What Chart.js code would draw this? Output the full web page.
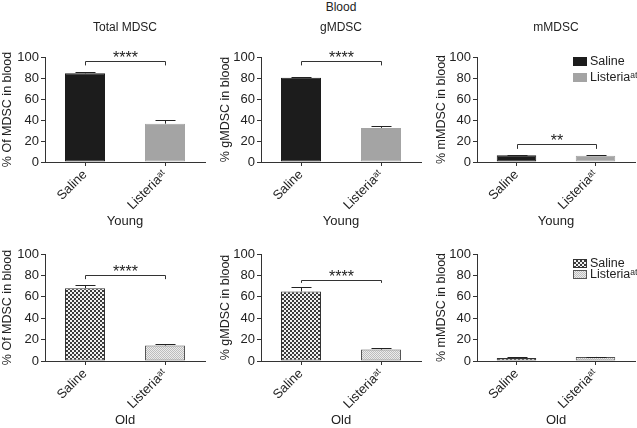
<!DOCTYPE html>
<html>
<head>
<meta charset="utf-8">
<script src="https://cdn.jsdelivr.net/npm/chart.js@4.4.1/dist/chart.umd.min.js"></script>
<style>
  body { margin: 0; background: #fff; }
  #wrap { position: relative; width: 637px; height: 428px; overflow: hidden;
          font-family: "Liberation Sans", Arial, sans-serif; color: #222; }
  #wrap canvas { position: absolute; }
  #blood { position: absolute; left: 261px; width: 160px; top: 0; text-align: center;
           font-size: 12px; line-height: 14px; }
</style>
</head>
<body>
<div id="wrap">
  <div id="blood">Blood</div>
  <canvas id="c0"></canvas><canvas id="c1"></canvas><canvas id="c2"></canvas>
  <canvas id="c3"></canvas><canvas id="c4"></canvas><canvas id="c5"></canvas>
</div>
<script>
// ── DATOS ─────────────────────────────────────────────────────────────────────
var categories = ['Saline', 'Listeria\u1d43\u1d57'];
var yTicks     = [0, 20, 40, 60, 80, 100];

var panelTitles = ['Total MDSC', 'gMDSC', 'mMDSC', '', '', ''];
var yTitles     = ['% Of MDSC in blood', '% gMDSC in blood', '% mMDSC in blood',
                   '% Of MDSC in blood', '% gMDSC in blood', '% mMDSC in blood'];
var xTitles     = ['Young', 'Young', 'Young', 'Old', 'Old', 'Old'];

var youngTotal    = [84.5, 36.5];  var youngTotalErr = [1.6, 3.2];
var youngG        = [80.2, 32.5];  var youngGErr     = [0.6, 2.2];
var youngM        = [6.5, 6.0];    var youngMErr     = [0.2, 0.7];
var oldTotal      = [68.0, 14.5];  var oldTotalErr   = [3.4, 1.2];
var oldG          = [65.0, 10.7];  var oldGErr       = [3.8, 1.4];
var oldM          = [2.8, 3.8];    var oldMErr       = [0.5, 0.3];

var sigTop  = [96, 96, 17.5, 80, 76, null];
var sigLeg  = [92, 92, 12.5, 76.5, 73, null];
var sigText = ['****', '****', '**', '****', '****', ''];

// ── LAYOUT ────────────────────────────────────────────────────────────────────
var panels = [
  { vals: youngTotal, errs: youngTotalErr, left: 0,   top: 0,   w: 212, h: 232, yw: 45, pr: 7, tp: 0 },
  { vals: youngG,     errs: youngGErr,     left: 212, top: 0,   w: 216, h: 232, yw: 49, pr: 7, tp: 6 },
  { vals: youngM,     errs: youngMErr,     left: 428, top: 0,   w: 209, h: 232, yw: 49, pr: 2, tp: 6, legend: true },
  { vals: oldTotal,   errs: oldTotalErr,   left: 0,   top: 232, w: 212, h: 196, yw: 45, pr: 7, tp: 0 },
  { vals: oldG,       errs: oldGErr,       left: 212, top: 232, w: 216, h: 196, yw: 49, pr: 7, tp: 6 },
  { vals: oldM,       errs: oldMErr,       left: 428, top: 232, w: 209, h: 196, yw: 49, pr: 2, tp: 6, legend: true }
];

function patron(c1, c2, size) {
  var cv = document.createElement('canvas');
  cv.width = size * 2; cv.height = size * 2;
  var g = cv.getContext('2d');
  g.fillStyle = c2; g.fillRect(0, 0, size * 2, size * 2);
  g.fillStyle = c1; g.fillRect(0, 0, size, size); g.fillRect(size, size, size, size);
  return g.createPattern(cv, 'repeat');
}

var fillYoung   = ['#1c1c1c', '#a4a4a4'];
var borderYoung = ['#1c1c1c', '#a4a4a4'];
var fillOld     = [patron('#3c3c3c', '#f2f2f2', 2), patron('#bdbdbd', '#ececec', 1)];
var borderOld   = ['#333', '#555'];

var FONT = '"Liberation Sans", Arial, sans-serif';

// ── PLUGIN: barras de error, corchetes, leyenda ──────────────────────────────
var extras = {
  id: 'extras',
  afterDatasetsDraw: function(chart, args, o) {
    var ctx = chart.ctx, y = chart.scales.y;
    var meta = chart.getDatasetMeta(0);
    ctx.save();
    ctx.lineWidth = 1;
    o.vals.forEach(function(v, i) {
      var px = Math.round(meta.data[i].x) + 0.5;
      var t = y.getPixelForValue(v), e = Math.round(y.getPixelForValue(v + o.errs[i])) + 0.5;
      ctx.strokeStyle = '#222';
      ctx.beginPath();
      ctx.moveTo(px, t); ctx.lineTo(px, e);
      ctx.moveTo(px - 10, e); ctx.lineTo(px + 10, e);
      ctx.stroke();
    });
    if (o.sigTop != null) {
      var x0 = Math.round(meta.data[0].x) + 0.5, x1 = Math.round(meta.data[1].x) + 0.5;
      var yt = Math.round(y.getPixelForValue(o.sigTop)) + 0.5, yl = y.getPixelForValue(o.sigLeg);
      ctx.strokeStyle = '#333';
      ctx.beginPath();
      ctx.moveTo(x0, yl); ctx.lineTo(x0, yt); ctx.lineTo(x1, yt); ctx.lineTo(x1, yl);
      ctx.stroke();
      ctx.fillStyle = '#222';
      ctx.font = '16px ' + FONT;
      ctx.textAlign = 'center'; ctx.textBaseline = 'alphabetic';
      ctx.fillText(o.sigText, (x0 + x1) / 2, yt + 1);
    }
    if (o.legend) {
      var ca = chart.chartArea;
      var lx = ca.left + 96, ly = ca.top + o.legTop;
      ctx.font = '12.5px ' + FONT;
      ctx.textAlign = 'left'; ctx.textBaseline = 'middle';
      categories.forEach(function(c, i) {
        var yy = ly + i * o.legGap;
        ctx.fillStyle = o.fills[i];
        ctx.fillRect(lx, yy, 14, 9);
        if (o.outline) { ctx.strokeStyle = o.borders[i]; ctx.strokeRect(lx + 0.5, yy + 0.5, 13, 8); }
        ctx.fillStyle = '#222';
        ctx.fillText(c, lx + 17, yy + 5);
      });
    }
    ctx.restore();
  }
};

panels.forEach(function(p, i) {
  var cv = document.getElementById('c' + i);
  cv.width = p.w; cv.height = p.h;
  cv.style.left = p.left + 'px'; cv.style.top = p.top + 'px';
  var young = i < 3;
  var fills = young ? fillYoung : fillOld;
  var borders = young ? borderYoung : borderOld;

  new Chart(cv.getContext('2d'), {
    type: 'bar',
    data: {
      labels: categories,
      datasets: [{
        data: p.vals,
        backgroundColor: fills,
        borderColor: borders,
        borderWidth: 1,
        borderSkipped: false,
        barPercentage: 1,
        categoryPercentage: 0.5
      }]
    },
    options: {
      responsive: false,
      animation: false,
      events: [],
      layout: { padding: { top: young ? 0 : 22, right: p.pr, left: 0, bottom: 0 } },
      plugins: {
        legend: { display: false },
        tooltip: { enabled: false },
        title: {
          display: young,
          fullSize: false,
          text: panelTitles[i],
          color: '#222',
          font: { family: FONT, size: 12, weight: 'normal', lineHeight: 1.2 },
          padding: { top: 20, bottom: 22.6 }
        },
        extras: {
          vals: p.vals, errs: p.errs,
          sigTop: sigTop[i], sigLeg: sigLeg[i], sigText: sigText[i],
          legend: !!p.legend, fills: fills, borders: borders, outline: !young,
          legTop: young ? 0 : 5, legGap: young ? 16 : 11
        }
      },
      scales: {
        x: {
          offset: true,
          grid: { display: true, drawOnChartArea: false, offset: false, tickLength: 4, color: '#333' },
          border: { color: '#333', width: 1 },
          ticks: { color: '#222', font: { family: FONT, size: 13 }, minRotation: 45, maxRotation: 45, padding: 1 },
          title: { display: true, text: xTitles[i], color: '#222',
                   font: { family: FONT, size: 13, lineHeight: 1.2 },
                   padding: { top: 0, bottom: young ? 3 : 0 } },
          afterFit: function(s) { s.height = young ? 70 : 67; }
        },
        y: {
          min: 0, max: 100,
          afterBuildTicks: function(s) { s.ticks = yTicks.map(function(v) { return { value: v }; }); },
          grid: { display: true, drawOnChartArea: false, tickLength: 4, color: '#333' },
          border: { color: '#333', width: 1 },
          ticks: { color: '#222', font: { family: FONT, size: 13 }, padding: 2 },
          title: { display: true, text: yTitles[i], color: '#222',
                   font: { family: FONT, size: 12.5, lineHeight: 1.2 },
                   padding: { top: p.tp, bottom: 0 } },
          afterFit: function(s) { s.width = p.yw; }
        }
      }
    },
    plugins: [extras]
  });
});
</script>
</body>
</html>
